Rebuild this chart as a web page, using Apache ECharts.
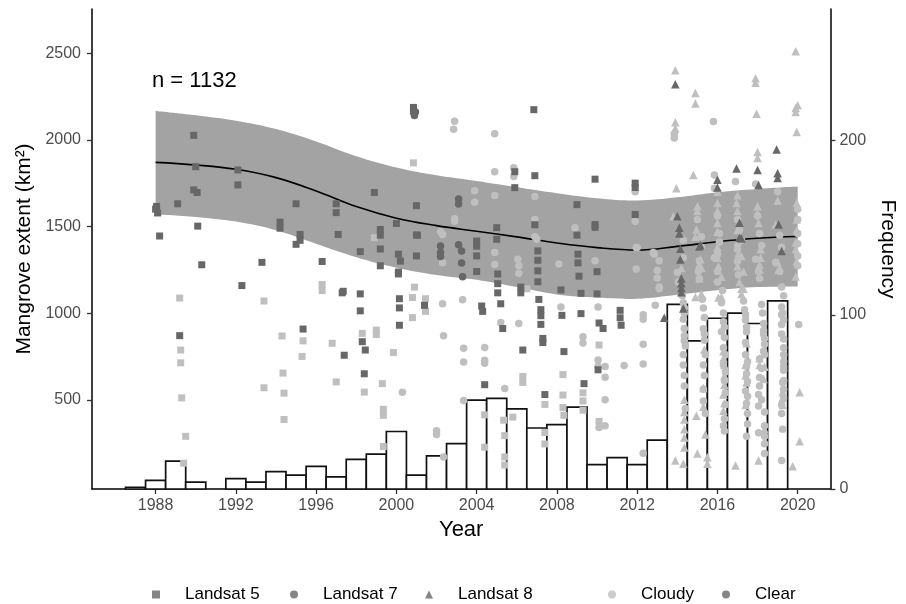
<!DOCTYPE html>
<html>
<head>
<meta charset="utf-8">
<script src="https://cdn.jsdelivr.net/npm/echarts@6/dist/echarts.min.js"></script>
<style>html,body{margin:0;padding:0;background:#fff}#c{width:906px;height:604px}</style>
</head>
<body>
<div id="c"></div>
<script>
// ---- Histogram (scenes per year) ----
const histYears = [1987,1988,1989,1990,1992,1993,1994,1995,1996,1997,1998,1999,2000,2001,2002,2003,2004,2005,2006,2007,2008,2009,2010,2011,2012,2013,2014,2015,2016,2017,2018,2019];
const histFreq  = [1,5,16,4,6,4,10,8,13,7,17,20,33,8,19,26,51,52,46,35,37,47,14,18,14,28,106,85,98,101,95,108];

// ---- Smoothed trend with confidence band ----
const smoothYears = [1988,1990,1992,1994,1996,1998,2000,2002,2004,2006,2008,2010,2012,2014,2016,2018,2020];
const smoothFit   = [1870,1855,1830,1782,1705,1615,1548,1505,1472,1440,1405,1378,1364,1385,1412,1432,1442];
const smoothLower = [1569,1555,1528,1478,1400,1322,1262,1220,1192,1150,1108,1090,1083,1106,1132,1150,1154];
const smoothUpper = [2167,2142,2110,2062,1990,1905,1840,1795,1762,1726,1692,1663,1650,1668,1697,1716,1730];

// ---- Tick labels ----
const xTicks = [1988,1992,1996,2000,2004,2008,2012,2016,2020];
const yLeftTicks = [500,1000,1500,2000,2500];
const yRightTicks = [0,100,200];

// ---- Scenes: [decimal year, mangrove extent km2] ----
const landsat5Clear = [
[1988.05,1616],[1988.1,1578],[1988.2,1445],[1988.0,1600],[1989.1,1631],[1989.9,2026],[1990.0,1845],[1989.9,1711],[1990.07,1696],[1990.1,1502],[1990.3,1279],[1989.2,870],
[1992.1,1826],[1992.1,1740],[1993.3,1293],[1992.3,1159],[1994.2,1525],[1994.2,1490],[1995.0,1631],[1995.2,1454],[1995.2,1420],[1995.0,1397],[1995.35,908],
[1996.3,1298],[1997.0,1631],[1997.0,1580],[1997.1,1454],[1997.3,1117],[1997.35,1126],[1997.4,757],[1998.2,1355],[1998.9,1696],[1999.2,1483],[1999.2,1450],
[1999.2,1370],[1999.2,1273],[2000.0,1517],[2000.1,1340],[2000.2,1300],[2000.1,1237],[2001.0,1620],[2001.0,1451],[2001.0,1330],[2000.85,2187],[2000.85,2165],
[1998.2,1111],[1998.2,1013],[1998.3,835],[1998.45,787],[1998.4,650],[2000.15,1083],[2000.15,1030],[2000.15,930],[2001.4,1045],[2000.1,1226],[2001.05,1449],
[2004.0,1416],[2004.0,1386],[2004.0,1330],[2004.0,1240],[2004.25,1041],[2004.3,1010],[2005.0,1493],[2005.0,1426],[2005.05,1226],[2005.05,1170],[2005.05,1117],
[2005.2,1054],[2005.3,911],[2004.4,587],[2005.9,1816],[2005.9,1724],[2006.2,1150],[2006.2,1117],[2006.3,787],[2006.85,2174],[2006.9,1793],[2006.9,1510],
[2007.05,1359],[2007.05,1305],[2007.05,1244],[2007.05,1181],[2007.1,1079],[2007.2,1020],[2007.2,985],[2007.2,935],[2007.3,854],[2007.3,830],[2007.4,530],
[2008.2,1134],[2008.25,987],[2008.35,778],[2009.0,1626],[2009.0,1450],[2009.05,1340],[2009.05,1290],[2009.1,1213],[2009.2,1114],[2009.2,997],[2009.35,593],
[2009.9,1773],[2009.9,1511],[2009.9,1495],[2010.0,1239],[2010.0,1111],[2010.1,943],[2010.05,673],[2010.3,911],[2011.15,1016],[2011.15,973],[2011.2,930],
[2011.9,1750],[2011.9,1725],[2011.9,1569]
];
const landsat5Cloudy = [
[1998.9,1435],[2000.85,1867],[1996.3,1165],[1996.3,1130],[2000.9,1150],[1989.2,1087],[1989.25,787],[1989.25,713],[1989.3,511],[1989.5,289],[1989.4,134],
[1993.4,1070],[1993.4,569],[1994.3,868],[1994.35,654],[1994.4,538],[1994.4,386],[1995.35,840],[1995.3,750],[1996.8,826],[1997.0,603],[2000.8,1090],
[2000.8,974],[2001.45,1083],[2001.45,1010],[1999.0,902],[1999.0,876],[1998.3,883],[1999.85,773],[1999.3,593],[1998.4,544],[1999.35,445],[1999.35,410],
[1999.35,230],[2006.3,635],[2006.3,600],[2005.35,382],[2005.4,293],[2005.4,170],[2005.4,123],[2004.4,413],[2004.4,226],[2005.8,400],[2007.4,473],
[2007.4,311],[2007.4,245],[2008.3,645],[2008.3,527],[2008.3,455],[2008.35,410],[2009.3,540],[2009.3,493],[2009.3,440],[2006.5,1140],[2010.1,816],[2010.1,375]
];
const landsat7Clear = [
[2000.9,2141],[2000.95,2160],[2002.2,1387],[2002.2,1350],[2003.1,1658],[2003.1,1630],[2003.1,1395],[2002.2,1326],[2003.25,1358],[2003.25,1289],[2003.3,1210]
];
const landsat7Cloudy = [
[2002.9,2107],[2002.85,2061],[2004.9,2035],[2002.3,1454],[2002.3,1290],[2002.9,1530],[2002.9,1544],[2002.2,1470],[2004.9,1816],[2005.85,1839],[2005.85,1788],
[2003.9,1706],[2003.9,1640],[2004.9,1679],[2006.9,1673],[2006.9,1540],[2006.9,1440],[2008.9,1493],[2002.3,1054],[2003.3,1077],[2002.35,870],[2000.3,544],
[2003.35,797],[2003.35,718],[2004.4,801],[2004.4,728],[2004.4,710],[2003.35,496],[2002.0,321],[2002.0,300],[2002.35,169],[2005.4,565],[2005.2,946],
[2006.1,940],[2006.05,1311],[2006.1,1274],[2006.1,1230],[2004.9,1350],[2004.9,1280],[2008.2,1036],[2009.3,864],[2009.3,828],[2010.05,1036],[2010.05,693],
[2010.05,730],[2010.1,340],[2007.0,1426],[2008.1,1283],[2009.9,1302],[2011.95,1254],[2011.9,1700],[2011.9,1530],[2011.95,1378],[2012.8,1350],[2013.1,1302],
[2013.0,1246],[2013.0,1203],[2013.1,1150],[2012.0,1378],[2012.85,1340],[2013.1,1140],[2012.3,991],[2012.3,965],[2012.9,1045],[2012.3,820],[2012.3,707],
[2011.35,698],[2010.4,692],[2010.4,630],[2010.4,500],[2010.4,350],[2012.3,191],[2013.85,2035],[2013.85,2010],[2015.8,2106],[2015.85,1797],[2015.85,1320],
[2014.0,1235],[2014.05,1180],[2015.1,1302],[2015.05,1240],[2015.1,1200],[2016.0,1340],[2016.0,1240],[2016.0,1180],[2017.0,1369],[2017.0,1300],[2017.05,1222],
[2017.9,1311],[2018.05,1240],[2018.1,1200],[2018.9,1293],[2019.1,1240],[2020.0,1330],[2020.0,1274],[2020.05,934],[2019.3,721],[2019.3,670],[2019.3,611],
[2018.35,854],[2018.35,820],[2018.35,350],[2018.35,290],[2018.35,246],[2018.05,464],[2018.05,530],[2018.1,628],[2018.1,735],[2017.45,893],[2017.4,760],
[2017.45,693],[2017.5,606],[2017.45,480],[2017.4,550],[2016.4,473],[2016.35,390],[2016.3,350],[2016.2,893],[2015.3,493],[2015.3,700],[2015.35,640],
[2015.35,843],[2015.35,975],[2014.35,911],[2014.35,870],[2014.35,840],[2014.35,640],[2014.35,580],[2014.3,965],[2019.2,1036],[2019.2,990],[2019.2,935],
[2019.2,880],[2019.2,470],[2019.2,420],[2018.05,310],[2017.45,290],[2016.35,320],[2018.35,430],[2014.3,760],[2014.3,700],[2014.4,450],[2015.3,560],
[2015.4,420],[2016.3,800],[2016.3,700],[2016.35,610],[2016.4,540],[2017.4,830],[2017.5,420],[2017.5,360],[2018.1,580],[2018.2,680],[2018.3,780],
[2019.3,800],[2019.3,560],[2019.3,510],[2019.25,330],[2019.2,150],[2018.35,190],[2017.4,960],[2016.3,1000],[2015.3,1030],[2014.35,1030],[2018.3,940],
[2019.3,1100],[2019.2,1150],[2018.2,1050],[2017.3,1070],[2016.2,1060],[2014.3,1420],[2014.3,1320],[2015.2,1440],[2015.2,1380],[2016.1,1460],[2016.1,1410],
[2017.1,1480],[2017.2,1420],[2018.1,1460],[2018.2,1390],[2019.1,1450],[2019.2,1380],[2020.0,1400],[2020.0,1460],[2015.85,1720],[2016.9,1760],[2017.9,1745],
[2019.0,1700],[2020.0,1540],[2020.0,1600],[2018.0,1560],[2017.0,1540],[2016.0,1560],[2015.0,1540],
[2014.25,1100],[2014.3,1060],[2015.25,1080],[2015.3,910],[2015.35,880],[2016.25,1130],[2016.3,950],[2016.35,920],[2016.35,860],[2016.4,760],[2017.35,1020],
[2017.4,990],[2017.45,920],[2017.5,720],[2017.45,650],[2018.25,1000],[2018.3,900],[2018.3,880],[2018.35,760],[2019.25,1000],[2019.3,960],[2019.3,850],
[2019.3,760],[2019.3,690],[2014.35,1000],[2014.4,810],[2015.4,760],[2016.4,660],[2017.5,520],[2018.2,500],[2019.25,600]
];
const landsat8Clear = [
[2013.9,2321],[2016.0,1769],[2016.0,1725],[2016.95,1835],[2018.0,1826],[2018.95,1944],[2019.0,1807],[2019.0,1780],[2018.05,1740],[2014.0,1559],[2014.1,1493],
[2014.1,1460],[2014.15,1372],[2014.15,1310],[2014.2,1200],[2014.2,1145],[2015.1,1384],[2017.1,1521],[2017.1,1435],[2019.05,1511],[2019.2,1359],[2013.35,973],
[2014.3,1026],[2014.2,1121],[2014.2,1173],[2015.15,1391],[2017.2,1430]
];
const landsat8Cloudy = [
[2013.9,2401],[2017.9,2355],[2017.9,2330],[2014.9,2270],[2014.9,2210],[2017.95,2150],[2019.9,2184],[2019.95,2045],[2013.9,2101],[2013.9,2065],[2018.0,1930],
[2018.0,1895],[2014.8,1797],[2013.95,1721],[2013.8,1559],[2015.0,1616],[2015.0,1590],[2016.0,1635],[2016.0,1590],[2016.95,1635],[2017.0,1590],[2018.0,1616],
[2018.0,1575],[2018.05,1520],[2018.9,1511],[2019.95,1635],[2019.95,1540],[2019.95,1480],[2014.95,1483],[2014.9,1440],[2016.0,1520],[2016.0,1470],[2016.0,1380],
[2016.0,1320],[2016.05,1270],[2017.0,1480],[2017.0,1410],[2017.05,1345],[2017.0,1270],[2017.1,1180],[2018.15,1369],[2018.15,1320],[2018.1,1250],[2019.0,1293],
[2019.05,1250],[2019.9,1369],[2019.95,1300],[2015.15,1311],[2015.2,1260],[2015.1,1200],[2015.2,1110],[2016.05,1090],[2020.1,544],[2020.1,260],[2019.75,116],
[2018.35,330],[2018.05,150],[2018.1,700],[2018.1,740],[2016.35,700],[2016.35,640],[2016.35,585],[2016.3,530],[2016.3,437],[2015.3,568],[2014.95,407],
[2014.35,500],[2014.35,430],[2014.35,386],[2014.35,282],[2014.35,225],[2015.5,168],[2015.5,130],[2017.45,826],[2017.4,640],[2019.25,510],[2019.25,545],
[2018.35,690],[2015.35,790],[2015.4,300],[2014.9,1093],[2016.2,1093],[2017.2,1140],[2017.3,1140],[2017.2,1110],[2014.2,1260],[2015.1,1280],[2016.2,1210],
[2017.2,1330],[2017.3,1240],[2018.1,1280],[2019.1,1260],[2019.9,1407],[2019.9,1212],[2019.9,2511],[2020.0,2200],[2019.9,2160],[2016.0,1700],[2017.0,1680],
[2019.0,1650],[2013.9,150],[2014.3,130],[2016.9,120],[2015.0,190],
[2016.3,780],[2016.3,740],[2016.35,480],[2017.4,700],[2017.45,600],[2017.4,470],[2015.3,460],[2014.35,330],[2019.25,470],[2018.3,620]
];

const DARK = '#676767', LIGHT = '#bfbfbf';
const FONT = '"Liberation Sans", Arial, sans-serif';
const plainNum = v => String(v);
const SMOOTH = 0.4;

// Bezier path through pixel points (same control-point rule as ECharts' smoothed lines)
function smoothSegments(p, start) {
  const n = p.length;
  const cps = p.map((pt, i) => {
    if (i === 0 || i === n - 1) return [pt, pt];
    const prev = p[i - 1], next = p[i + 1];
    const vx = next[0] - prev[0], vy = next[1] - prev[1];
    const l0 = Math.hypot(pt[0] - prev[0], pt[1] - prev[1]);
    const l1 = Math.hypot(next[0] - pt[0], next[1] - pt[1]);
    const r = l1 / (l0 + l1);
    return [[pt[0] - vx * SMOOTH * (1 - r), pt[1] - vy * SMOOTH * (1 - r)],
            [pt[0] + vx * SMOOTH * r, pt[1] + vy * SMOOTH * r]];
  });
  let d = (start ? 'M' : 'L') + p[0][0] + ',' + p[0][1];
  for (let i = 1; i < n; i++) {
    const a = cps[i - 1][1], b = cps[i][0];
    d += 'C' + a[0] + ',' + a[1] + ',' + b[0] + ',' + b[1] + ',' + p[i][0] + ',' + p[i][1];
  }
  return d;
}

const chart = echarts.init(document.getElementById('c'), null, {renderer: 'canvas'});

function pts(name, data, symbol, color, size) {
  return {type: 'scatter', name: name, data: data, symbol: symbol, symbolSize: size,
          itemStyle: {color: color, opacity: 1}, z: 5, silent: true};
}
function legendDummy(name, symbol, color) {
  return {type: 'scatter', name: name, data: [], symbol: symbol, symbolSize: 8, itemStyle: {color: color}};
}
function legendAt(name, left) {
  return {data: [name], left: left, top: 586, padding: 0, itemWidth: 8, itemHeight: 8, selectedMode: false,
          textStyle: {fontSize: 17, color: '#000', fontFamily: FONT, padding: [0, 0, 0, 20]}};
}

const option = {
  animation: false,
  backgroundColor: '#fff',
  textStyle: {fontFamily: FONT},
  grid: {left: 92, right: 74, top: 9, bottom: 115, containLabel: false},
  legend: [legendAt('Landsat 5', 152), legendAt('Landsat 7', 290), legendAt('Landsat 8', 425),
           legendAt('Cloudy', 608), legendAt('Clear', 722)],
  graphic: [{type: 'text', left: 152, top: 70, style: {text: 'n = 1132', fontSize: 22, fill: '#000', fontFamily: FONT}}],
  xAxis: {
    type: 'value', min: 1984.83, max: 2021.63,
    name: 'Year', nameLocation: 'middle', nameGap: 27,
    nameTextStyle: {fontSize: 22, color: '#000', fontFamily: FONT},
    axisLine: {onZero: false, lineStyle: {color: '#000', width: 1.5}},
    axisTick: {customValues: xTicks, length: 5, lineStyle: {color: '#333', width: 1.3}},
    axisLabel: {customValues: xTicks, formatter: plainNum, fontSize: 16, color: '#4d4d4d', margin: 9, fontFamily: FONT},
    splitLine: {show: false}
  },
  yAxis: [{
    type: 'value', min: -15, max: 2755, position: 'left',
    name: 'Mangrove extent (km²)', nameLocation: 'middle', nameGap: 52,
    nameTextStyle: {fontSize: 21, color: '#000', fontFamily: FONT},
    axisLine: {show: true, lineStyle: {color: '#000', width: 1.5}},
    axisTick: {show: true, customValues: yLeftTicks, length: 5, lineStyle: {color: '#333', width: 1.3}},
    axisLabel: {customValues: yLeftTicks, formatter: plainNum, fontSize: 16, color: '#4d4d4d', margin: 11, fontFamily: FONT},
    splitLine: {show: false}
  }, {
    type: 'value', min: 0, max: 275.5, position: 'right',
    name: 'Frequency', nameLocation: 'middle', nameGap: 40, nameRotate: -90,
    nameTextStyle: {fontSize: 21, color: '#000', fontFamily: FONT},
    axisLine: {show: true, lineStyle: {color: '#000', width: 1.5}},
    axisTick: {show: true, customValues: yRightTicks, length: 5, lineStyle: {color: '#333', width: 1.3}},
    axisLabel: {customValues: yRightTicks, formatter: plainNum, fontSize: 16, color: '#4d4d4d', margin: 9, fontFamily: FONT},
    splitLine: {show: false}
  }],
  series: [
    {
      // confidence band as one closed path between upper and lower bounds
      type: 'custom', name: 'ci', z: 1, silent: true,
      data: smoothYears.map((y, i) => [y, smoothLower[i], smoothUpper[i]]),
      encode: {x: 0, y: [1, 2]},
      renderItem: function (params, api) {
        if (params.dataIndex !== 0) return null;
        const up = smoothYears.map((y, i) => api.coord([y, smoothUpper[i]]));
        const lo = smoothYears.map((y, i) => api.coord([y, smoothLower[i]])).reverse();
        const d = smoothSegments(up, true) + smoothSegments(lo, false) + 'Z';
        return {type: 'path', shape: {pathData: d}, style: {fill: '#a3a3a3'}};
      }
    },
    {
      type: 'custom', name: 'hist', yAxisIndex: 1, z: 2, silent: true,
      data: histYears.map((y, i) => [y, histFreq[i]]),
      renderItem: function (params, api) {
        const x = api.value(0), h = api.value(1);
        const p0 = api.coord([x - 0.5, h]);
        const p1 = api.coord([x + 0.5, 0]);
        return {type: 'rect', shape: {x: p0[0], y: p0[1], width: p1[0] - p0[0], height: p1[1] - p0[1]},
                style: {fill: '#fff', stroke: '#111', lineWidth: 1.7}};
      }
    },
    {
      type: 'line', name: 'fit', smooth: SMOOTH, symbol: 'none', silent: true, z: 3,
      lineStyle: {color: '#000', width: 1.6}, data: smoothYears.map((y, i) => [y, smoothFit[i]])
    },
    pts('L5 cloudy', landsat5Cloudy, 'rect', LIGHT, 7),
    pts('L7 cloudy', landsat7Cloudy, 'circle', LIGHT, 7.5),
    pts('L8 cloudy', landsat8Cloudy, 'triangle', LIGHT, 8.5),
    pts('L5 clear', landsat5Clear, 'rect', DARK, 7),
    pts('L7 clear', landsat7Clear, 'circle', DARK, 7.5),
    pts('L8 clear', landsat8Clear, 'triangle', DARK, 8.5),
    legendDummy('Landsat 5', 'rect', DARK),
    legendDummy('Landsat 7', 'circle', DARK),
    legendDummy('Landsat 8', 'triangle', DARK),
    legendDummy('Cloudy', 'circle', LIGHT),
    legendDummy('Clear', 'circle', DARK)
  ]
};
chart.setOption(option);
</script>
</body>
</html>
